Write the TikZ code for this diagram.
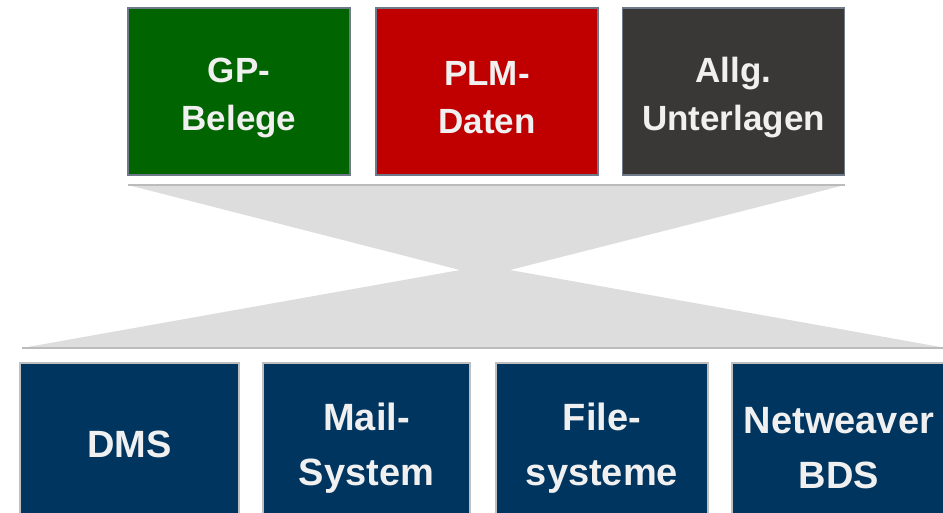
\documentclass[tikz,border=0pt]{standalone}
\usepackage{fontspec}
\setmainfont{Liberation Sans}
\definecolor{gpgreen}{HTML}{006400}
\definecolor{plmred}{HTML}{C00000}
\definecolor{allgray}{HTML}{3A3836}
\definecolor{navy}{HTML}{00355F}
\definecolor{topedge}{HTML}{6E7A8A}
\definecolor{botedge}{HTML}{BFBFBF}
\definecolor{funnel}{HTML}{DDDDDD}
\definecolor{funnelline}{HTML}{BBBBBB}
\definecolor{txt}{HTML}{F0F0F0}
\begin{document}
\begin{tikzpicture}[x=1pt,y=-1pt,
  topbox/.style={draw=topedge,line width=1.5pt,minimum width=222pt,minimum height=167pt,inner sep=0pt},
  toptext/.style={text=txt,align=center,font=\bfseries\fontsize{35}{48}\selectfont,inner sep=0pt},
  botbox/.style={draw=botedge,line width=1.5pt,fill=navy,minimum height=164pt,inner sep=0pt},
  bottext/.style={text=txt,align=center,font=\bfseries\fontsize{38}{55}\selectfont,inner sep=0pt}]
\useasboundingbox (0,0) rectangle (943,513);
\clip (0,0) rectangle (943,513);
\fill[white] (0,0) rectangle (943,513);
% funnel
\fill[funnel] (128,185) -- (845,185) -- (510,270) -- (460,270) -- cycle;
\fill[funnel] (460,270) -- (510,270) -- (946,348) -- (22,348) -- cycle;
\draw[funnelline,line width=1.5pt] (128,185) -- (845,185);
\draw[funnelline,line width=1.5pt] (22,348) -- (946,348);
% top boxes
\node[topbox,fill=gpgreen] (gp) at (239,91.5) {};
\node[topbox,fill=plmred] (plm) at (487,91.5) {};
\node[topbox,fill=allgray] (allg) at (733.5,91.5) {};
\node[toptext] (gpt) at (239,97.5) {GP-\\Belege};
\node[toptext] (plmt) at (487,97.5) {PLM-\\Daten};
\node[toptext] (allgt) at (733.5,97.5) {Allg.\\Unterlagen};
% bottom boxes
\node[botbox,minimum width=219pt] (dms) at (129.5,445) {};
\node[botbox,minimum width=207pt] (mail) at (366.5,445) {};
\node[botbox,minimum width=212pt] (file) at (602,445) {};
\node[botbox,minimum width=214pt] (nw) at (839,445) {};
\node[bottext] (dmst) at (129.5,444) {DMS};
\node[bottext] (mailt) at (366.5,448.5) {Mail-\\System};
\node[bottext] (filet) at (602,448.5) {File-\\systeme};
\node[bottext] (nwt) at (839,448.5) {Netweaver\\BDS};
\end{tikzpicture}
\end{document}
